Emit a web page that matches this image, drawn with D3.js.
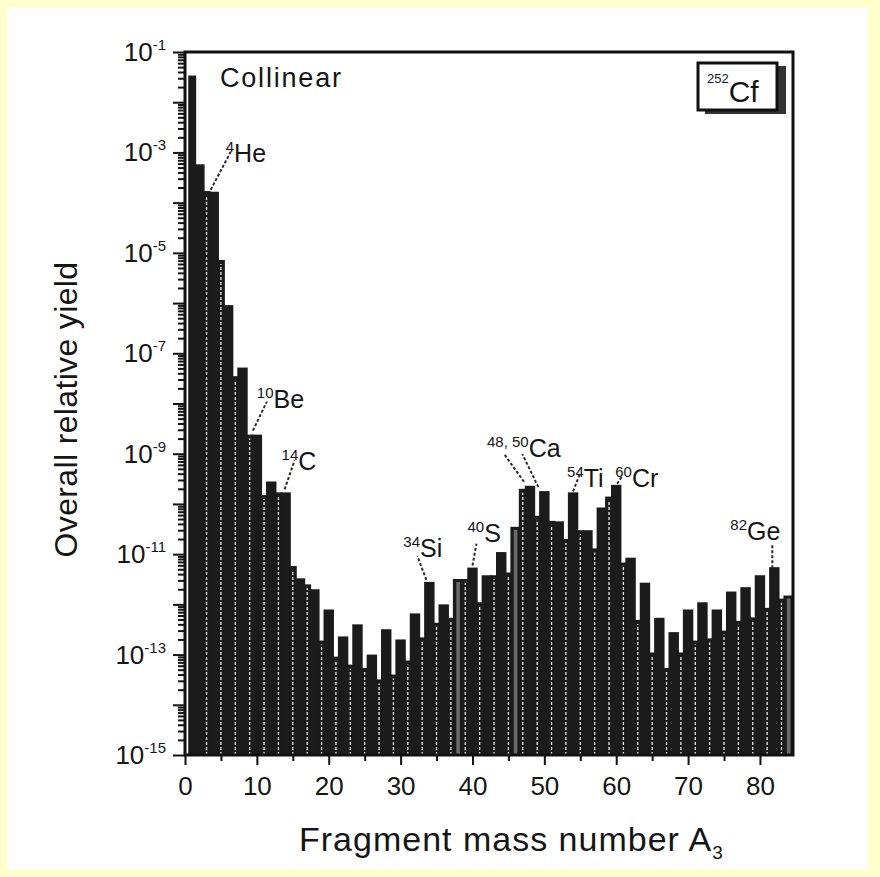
<!DOCTYPE html>
<html>
<head>
<meta charset="utf-8">
<script src="https://cdn.jsdelivr.net/npm/d3@7"></script>
<style>
body { margin: 0; background: #fff; }
text { font-family: "Liberation Sans", Arial, Helvetica, sans-serif; fill: #151515; }
</style>
</head>
<body>
<div id="chart"></div>
<script>
// ----------------------------------------------------------
// DATA -----------------------------------------------------
// ----------------------------------------------------------
// fragment mass number A3
var massNumbers = [1, 2, 3, 4, 5, 6, 7, 8, 9, 10, 11, 12, 13, 14, 15, 16, 17, 18, 19, 20,
  21, 22, 23, 24, 25, 26, 27, 28, 29, 30, 31, 32, 33, 34, 35, 36, 37, 38, 39, 40,
  41, 42, 43, 44, 45, 46, 47, 48, 49, 50, 51, 52, 53, 54, 55, 56, 57, 58, 59, 60,
  61, 62, 63, 64, 65, 66, 67, 68, 69, 70, 71, 72, 73, 74, 75, 76, 77, 78, 79, 80,
  81, 82, 83, 84];

// overall relative yield
var yields = [3.4e-2, 5.8e-4, 1.7e-4, 1.65e-4, 7.2e-6, 9.1e-7, 3.5e-8, 5.2e-8, 2.4e-9, 2.4e-9,
  1.5e-10, 2.8e-10, 1.7e-10, 1.7e-10, 5.8e-12, 3.3e-12, 2.5e-12, 2.0e-12, 1.9e-13, 7.9e-13,
  9.1e-14, 2.3e-13, 6.3e-14, 4.0e-13, 5.4e-14, 1.0e-13, 3.2e-14, 3.2e-13, 4.0e-14, 2.0e-13,
  7.6e-14, 6.6e-13, 2.2e-13, 2.8e-12, 4.3e-13, 1.0e-12, 5.4e-13, 3.2e-12, 3.2e-12, 5.4e-12,
  1.1e-12, 3.8e-12, 3.8e-12, 1.1e-11, 4.3e-12, 3.5e-11, 2.0e-10, 2.3e-10, 5.8e-11, 1.8e-10,
  4.6e-11, 4.5e-11, 2.0e-11, 1.7e-10, 3.0e-11, 3.0e-11, 1.3e-11, 8.5e-11, 1.4e-10, 2.4e-10,
  6.8e-12, 8.5e-12, 4.9e-13, 2.7e-12, 1.1e-13, 5.4e-13, 5.4e-14, 2.8e-13, 1.1e-13, 7.9e-13,
  1.9e-13, 1.1e-12, 2.1e-13, 7.9e-13, 3.0e-13, 1.8e-12, 4.7e-13, 2.2e-12, 5.5e-13, 3.8e-12,
  8.5e-13, 5.5e-12, 1.3e-12, 1.5e-12];

// bars that show a grey core in the scan
var greyBars = [38, 46, 84];

// tick labels
var xTickLabels = [0, 10, 20, 30, 40, 50, 60, 70, 80];
var xMinorTicks = [5, 15, 25, 35, 45, 55, 65, 75];
var yLabelExponents = [-1, -3, -5, -7, -9, -11, -13, -15];

// labelled isotopes
var isotopeMass = ["4", "10", "14", "34", "40", "48, 50", "54", "60", "82"];
var isotopeElement = ["He", "Be", "C", "Si", "S", "Ca", "Ti", "Cr", "Ge"];
var isotopeBars = [[4], [10], [14], [34], [40], [48, 50], [54], [60], [82]];

// ----------------------------------------------------------
// LAYOUT ---------------------------------------------------
// ----------------------------------------------------------
var layout = {
  width: 880, height: 877,
  left: 185, right: 793, top: 52, bottom: 755,
  color_bg: "#ffffcc", color_bar: "#1b1b1b", color_ink: "#111"
};
// label position [dx, dy] relative to top of first bar
var labelOffsets = [[12, -30], [0, -27], [-4, -22], [-26, -25], [-5, -26], [-43, -29], [-6, -5], [-1, 2], [-44, -27]];
// leader [sx, sy, ex, ey] relative to top of each bar
var leaderOffsets = [
  [[-3, -2, 17, -40]],
  [[-4, -4, 10, -33]],
  [[-1, -3, 9, -32]],
  [[-3, -2, -12, -26]],
  [[0, -2, 4, -24]],
  [[-6, -4, -26, -32], [-6, -4, -22, -37]],
  [[0, -1, 7, -19]],
  [[1, -1, 6, -9]],
  [[-2, 1, -2, -24]]
];

var svg = d3.select("#chart").append("svg")
  .attr("width", layout.width)
  .attr("height", layout.height);

svg.append("rect").attr("width", layout.width).attr("height", layout.height)
  .attr("fill", layout.color_bg);
svg.append("rect").attr("x", 7).attr("y", 7).attr("width", 861).attr("height", 862)
  .attr("fill", "#fff");

svg.append("clipPath").attr("id", "plotclip").append("rect")
  .attr("x", layout.left).attr("y", layout.top)
  .attr("width", layout.right - layout.left).attr("height", layout.bottom - layout.top);

// ----------------------------------------------------------
// SCALES ---------------------------------------------------
// ----------------------------------------------------------
var x = d3.scaleLinear().domain([0, 84.6]).range([layout.left, layout.right]);
var y = d3.scaleLog().domain([1e-15, 1e-1]).range([layout.bottom, layout.top]);

var bars = massNumbers.map(function(A, i) { return { A: A, v: yields[i] }; });
var oddBars = bars.filter(function(d) { return d.A % 2 === 1; });
var evenBars = bars.filter(function(d) { return d.A % 2 === 0; });
var barIndex = {};
bars.forEach(function(d) { barIndex[d.A] = d; });

// ----------------------------------------------------------
// GFX ------------------------------------------------------
// ----------------------------------------------------------
var gBars = svg.append("g").attr("clip-path", "url(#plotclip)");

// odd mass numbers sit behind, narrow
gBars.selectAll(".odd").data(oddBars).enter().append("rect")
  .attr("class", "odd")
  .attr("x", function(d) { return x(d.A - 0.55); })
  .attr("width", x(1.1) - x(0))
  .attr("y", function(d) { return y(d.v); })
  .attr("height", function(d) { return y(1e-15) - y(d.v); })
  .attr("fill", layout.color_bar);

// even mass numbers on top, wide
gBars.selectAll(".even").data(evenBars).enter().append("rect")
  .attr("class", "even")
  .attr("x", function(d) { return x(d.A - 0.725); })
  .attr("width", x(1.45) - x(0))
  .attr("y", function(d) { return y(d.v); })
  .attr("height", function(d) { return y(1e-15) - y(d.v); })
  .attr("fill", layout.color_bar);

// grey cores
gBars.selectAll(".grey").data(greyBars.map(function(A) { return barIndex[A]; })).enter().append("rect")
  .attr("class", "grey")
  .attr("x", function(d) { return x(d.A - 0.25); })
  .attr("width", x(0.5) - x(0))
  .attr("y", function(d) { return y(d.v) + 3; })
  .attr("height", function(d) { return y(1e-15) - y(d.v) - 3; })
  .attr("fill", "#6a6a6a");

// light dashed separators through odd columns
gBars.selectAll(".sep").data(oddBars.filter(function(d) { return d.A > 1; })).enter().append("line")
  .attr("class", "sep")
  .attr("x1", function(d) { return x(d.A); })
  .attr("x2", function(d) { return x(d.A); })
  .attr("y1", y(1e-15))
  .attr("y2", function(d) { return y(d.v) + 4; })
  .attr("stroke", "#e6e6e6")
  .attr("stroke-width", 1.3)
  .attr("stroke-dasharray", "3,2");

// ----------------------------------------------------------
// AXES -----------------------------------------------------
// ----------------------------------------------------------
var decades = [], minors = [];
for (var e = -15; e <= -1; e++) {
  decades.push(Math.pow(10, e));
  if (e < -1) for (var k = 2; k <= 9; k++) minors.push(k * Math.pow(10, e));
}

function styleAxis(g) {
  g.select(".domain").remove();
  g.selectAll(".tick line").attr("stroke", layout.color_ink).attr("stroke-width", 2);
}

svg.append("g").attr("transform", "translate(" + layout.left + ",0)")
  .call(d3.axisLeft(y).tickValues(minors).tickSize(7).tickFormat(""))
  .call(styleAxis);
svg.append("g").attr("transform", "translate(" + layout.left + ",0)")
  .call(d3.axisLeft(y).tickValues(decades).tickSize(12).tickFormat(""))
  .call(styleAxis);

svg.append("g").attr("transform", "translate(0," + layout.bottom + ")")
  .call(d3.axisBottom(x).tickValues(xMinorTicks).tickSize(6).tickFormat(""))
  .call(styleAxis);
var xAxis = svg.append("g").attr("transform", "translate(0," + layout.bottom + ")")
  .call(d3.axisBottom(x).tickValues(xTickLabels).tickSize(10).tickPadding(12).tickFormat(d3.format("d")))
  .call(styleAxis);
xAxis.selectAll(".tick text")
  .attr("font-family", "Liberation Sans, Arial, sans-serif")
  .attr("font-size", 26)
  .attr("fill", "#1a1a1a");

// y labels 10^-n
var yLab = svg.append("g").selectAll("text").data(yLabelExponents).enter().append("text")
  .attr("x", 166)
  .attr("y", function(d) { return y(Math.pow(10, d)) + 9; })
  .attr("text-anchor", "end");
yLab.append("tspan").attr("font-size", 26).text("10");
yLab.append("tspan").attr("font-size", 15).attr("dy", -11).text(function(d) { return "-" + (-d); });

// frame
svg.append("rect")
  .attr("x", layout.left).attr("y", layout.top)
  .attr("width", layout.right - layout.left).attr("height", layout.bottom - layout.top)
  .attr("fill", "none").attr("stroke", layout.color_ink).attr("stroke-width", 3);

// ----------------------------------------------------------
// ANNOTATIONS ----------------------------------------------
// ----------------------------------------------------------
isotopeBars.forEach(function(list, i) {
  list.forEach(function(A, j) {
    var b = barIndex[A], o = leaderOffsets[i][j];
    svg.append("line")
      .attr("x1", x(b.A) + o[0]).attr("y1", y(b.v) + o[1])
      .attr("x2", x(b.A) + o[2]).attr("y2", y(b.v) + o[3])
      .attr("stroke", "#2a2a2a").attr("stroke-width", 2)
      .attr("stroke-dasharray", "3,2");
  });
  var b0 = barIndex[list[0]];
  var t = svg.append("text")
    .attr("x", x(b0.A) + labelOffsets[i][0])
    .attr("y", y(b0.v) + labelOffsets[i][1]);
  t.append("tspan").attr("font-size", 15).attr("dy", -10).text(isotopeMass[i]);
  t.append("tspan").attr("font-size", 25).attr("dy", 10).text(isotopeElement[i]);
});

svg.append("text").attr("x", 220).attr("y", 87)
  .attr("font-size", 27).attr("letter-spacing", 1.8)
  .text("Collinear");

// 252Cf box with shadow
svg.append("rect").attr("x", 705).attr("y", 66).attr("width", 81).attr("height", 48)
  .attr("fill", "#333");
svg.append("rect").attr("x", 698).attr("y", 63).attr("width", 79).attr("height", 47)
  .attr("fill", "#fff").attr("stroke", layout.color_ink).attr("stroke-width", 3);
var cf = svg.append("text").attr("x", 707).attr("y", 102);
cf.append("tspan").attr("font-size", 13).attr("dy", -19).text("252");
cf.append("tspan").attr("font-size", 30).attr("dy", 19).text("Cf");

// ----------------------------------------------------------
// TITLES ---------------------------------------------------
// ----------------------------------------------------------
svg.append("text")
  .attr("transform", "translate(77," + ((layout.top + layout.bottom) / 2 + 6) + ") rotate(-90)")
  .attr("text-anchor", "middle")
  .attr("font-size", 32).attr("letter-spacing", 0.35)
  .text("Overall relative yield");

var xt = svg.append("text").attr("x", 299).attr("y", 851)
  .attr("font-size", 34).attr("letter-spacing", 1);
xt.append("tspan").text("Fragment mass number A");
xt.append("tspan").attr("font-size", 19).attr("dy", 8).attr("letter-spacing", 0).text("3");
</script>
</body>
</html>
